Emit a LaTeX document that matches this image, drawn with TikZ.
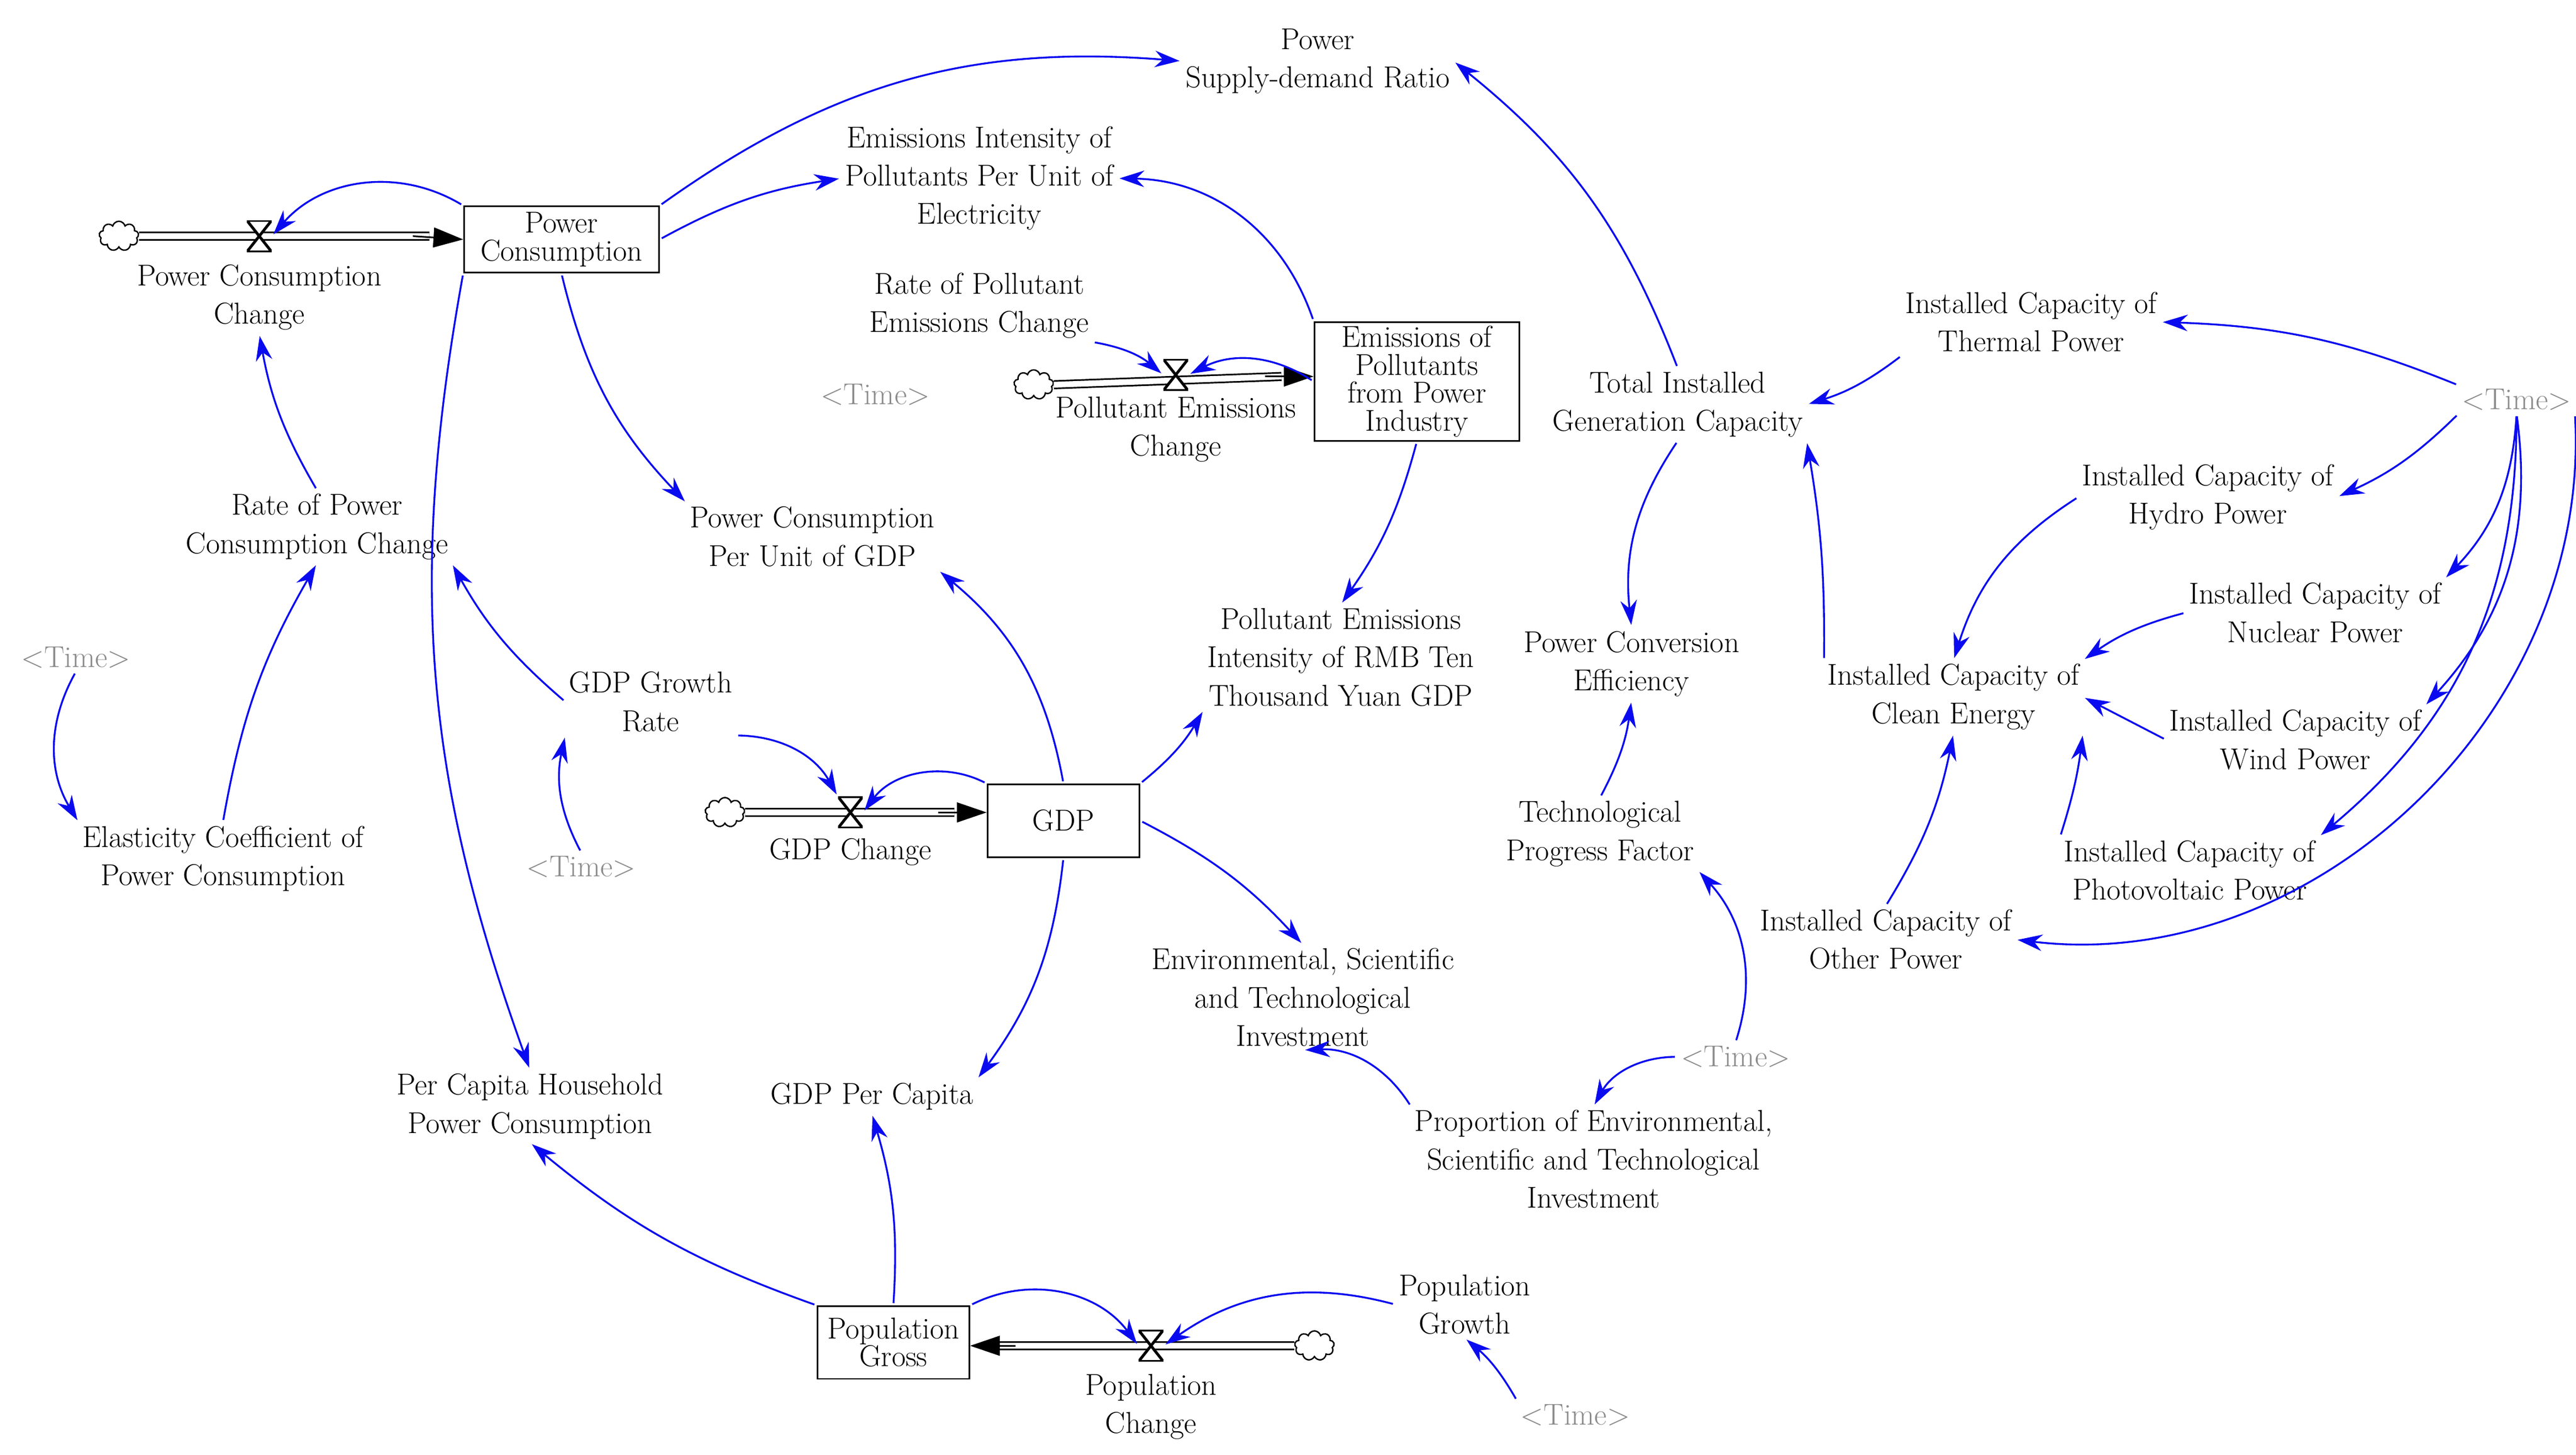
\documentclass[tikz,border=0pt]{standalone}
\usetikzlibrary{arrows.meta,shapes.symbols}
\newcommand\vsf{\fontsize{26}{33}\selectfont}
\newcommand\bxf{\fontsize{26}{24}\selectfont}
\definecolor{lk}{RGB}{10,10,240}
\begin{document}
\begin{tikzpicture}[x=0.05cm,y=-0.05cm,
 v/.style={align=center,font=\vsf,inner sep=3pt},
 tm/.style={font=\vsf,text=gray!90,inner sep=3pt},
 bx/.style={draw,line width=1.4pt,align=center,font=\bxf,inner sep=2pt},
 lnk/.style={draw=lk,line width=1.6pt,-{Stealth[length=0.75cm,width=0.5cm]},shorten >=2pt,shorten <=2pt},
 pipe/.style={double,double distance=5pt,line width=1.4pt},
 cl/.style={cloud,cloud puffs=9,draw,line width=1.2pt,fill=white,minimum width=1.2cm,minimum height=0.9cm,inner sep=0},
 valve/.style={minimum width=0.75cm,minimum height=0.95cm,inner sep=0,
   path picture={\draw[line width=2.4pt,fill=white] (path picture bounding box.north west)--(path picture bounding box.north east)--(path picture bounding box.south west)--(path picture bounding box.south east)--cycle;}},
 tip/.style={-{Triangle[length=0.9cm,width=0.6cm]},line width=1.4pt}
]
\useasboundingbox (0,0) rectangle (1560,881);
% stocks
\node[bx,minimum width=5.9cm,minimum height=2cm] (pc) at (340,145) {Power\\Consumption};
\node[bx,minimum width=6.2cm,minimum height=3.6cm] (ep) at (858,231) {Emissions of\\Pollutants\\from Power\\Industry};
\node[bx,minimum width=4.6cm,minimum height=2.2cm,font=\vsf] (gdp) at (644,497) {GDP};
\node[bx,minimum width=4.6cm,minimum height=2.2cm] (pg) at (541,813) {Population\\Gross};
% clouds and valves
\node[cl] (c1) at (72,143) {};
\node[cl] (c2) at (626,233) {};
\node[cl] (c3) at (439,492) {};
\node[cl] (c4) at (796,815) {};
\draw[pipe] (c1.east) -- (260,143); \draw[tip] (250,143) -- (pc.west);
\draw[pipe] (c2.east) -- (776,228); \draw[tip] (766,228) -- (ep.west |- 0,228);
\draw[pipe] (c3.east) -- (578,492); \draw[tip] (568,492) -- (gdp.west |- 0,492);
\draw[pipe] (c4.west) -- (605,815); \draw[tip] (615,815) -- (pg.east |- 0,815);
\node[valve] (v1) at (157,143) {};
\node[valve] (v2) at (712,227) {};
\node[valve] (v3) at (515,492) {};
\node[valve] (v4) at (697,815) {};
% variables
\node[v] (psd) at (798,37) {Power\\Supply-demand Ratio};
\node[v] (eipu) at (593,108) {Emissions Intensity of\\Pollutants Per Unit of\\Electricity};
\node[v] (pcc) at (157,180) {Power Consumption\\Change};
\node[v] (rpe) at (593,185) {Rate of Pollutant\\Emissions Change};
\node[tm] (t1) at (530,239) {<Time>};
\node[v] (pec) at (712,260) {Pollutant Emissions\\Change};
\node[v] (tig) at (1016,245) {Total Installed\\Generation Capacity};
\node[v] (th) at (1230,195) {Installed Capacity of\\Thermal Power};
\node[tm] (t2) at (1524,242) {<Time>};
\node[v] (hy) at (1337,301) {Installed Capacity of\\Hydro Power};
\node[v] (nu) at (1402,371) {Installed Capacity of\\Nuclear Power};
\node[v] (ce) at (1183,422) {Installed Capacity of\\Clean Energy};
\node[v] (wi) at (1390,448) {Installed Capacity of\\Wind Power};
\node[v] (pv) at (1326,527) {Installed Capacity of\\Photovoltaic Power};
\node[v] (ot) at (1142,569) {Installed Capacity of\\Other Power};
\node[v] (pce) at (988,402) {Power Conversion\\Efficiency};
\node[v] (tp) at (969,505) {Technological\\Progress Factor};
\node[tm] (t3) at (1051,640) {<Time>};
\node[v] (pr) at (965,702) {Proportion of Environmental,\\Scientific and Technological\\Investment};
\node[v] (env) at (789,604) {Environmental, Scientific\\and Technological\\Investment};
\node[v] (peg) at (812,398) {Pollutant Emissions\\Intensity of RMB Ten\\Thousand Yuan GDP};
\node[v] (pcg) at (492,325) {Power Consumption\\Per Unit of GDP};
\node[v] (rpc) at (192,319) {Rate of Power\\Consumption Change};
\node[tm] (t4) at (46,398) {<Time>};
\node[v] (el) at (135,520) {Elasticity Coefficient of\\Power Consumption};
\node[v] (ggr) at (394,425) {GDP Growth\\Rate};
\node[tm] (t5) at (352,525) {<Time>};
\node[v] (gc) at (515,516) {GDP Change};
\node[v] (gpc) at (528,664) {GDP Per Capita};
\node[v] (phc) at (321,670) {Per Capita Household\\Power Consumption};
\node[v] (popc) at (697,852) {Population\\Change};
\node[v] (popg) at (887,790) {Population\\Growth};
\node[tm] (t6) at (954,857) {<Time>};
% links
\draw[lnk] (pc.north east) to[bend left=20] (psd.west);
\draw[lnk] (pc.east) to[bend left=10] (eipu.west);
\draw[lnk] (pc.north west) to[bend right=40] (v1.east);
\draw[lnk] (pc.south) to[bend right=15] (pcg.north west);
\draw[lnk] (pc.south west) to[bend right=15] (phc.north);
\draw[lnk] (ep.north west) to[bend right=35] (eipu.east);
\draw[lnk] (ep.west) to[bend right=30] (v2.east);
\draw[lnk] (ep.south) to[bend left=10] (peg.north);
\draw[lnk] (rpe.south east) to[bend left=15] (v2.west);
\draw[lnk] (tig.north) to[bend right=15] (psd.east);
\draw[lnk] (tig.south) to[bend right=20] (pce.north);
\draw[lnk] (th.south west) to[bend left=10] (tig.east);
\draw[lnk] (t2.north west) to[bend right=10] (th.east);
\draw[lnk] (t2.south west) to[bend left=10] (hy.east);
\draw[lnk] (t2.south) to[bend left=20] (nu.north east);
\draw[lnk] (t2.south) to[bend left=25] (wi.north east);
\draw[lnk] (t2.south) to[bend left=25] (pv.north east);
\draw[lnk] (t2.south east) to[bend left=50] (ot.east);
\draw[lnk] (hy.west) to[bend right=20] (ce.north);
\draw[lnk] (nu.west) to[bend right=10] (ce.north east);
\draw[lnk] (wi.west) to (ce.east);
\draw[lnk] (pv.north west) to[bend right=5] (ce.south east);
\draw[lnk] (ot.north) to[bend right=10] (ce.south);
\draw[lnk] (ce.north west) to[bend right=5] (tig.south east);
\draw[lnk] (tp.north) to[bend right=10] (pce.south);
\draw[lnk] (t3.north) to[bend right=30] (tp.south east);
\draw[lnk] (t3.west) to[bend right=30] (pr.north);
\draw[lnk] (pr.north west) to[bend right=30] (env.south);
\draw[lnk] (gdp.east) to[bend left=10] (env.north);
\draw[lnk] (gdp.north east) to[bend right=10] (peg.south west);
\draw[lnk] (gdp.north) to[bend right=20] (pcg.south east);
\draw[lnk] (gdp.north west) to[bend right=40] (v3.east);
\draw[lnk] (gdp.south) to[bend left=15] (gpc.north east);
\draw[lnk] (ggr.south east) to[bend left=30] (v3.north west);
\draw[lnk] (ggr.west) to[bend left=10] (rpc.south east);
\draw[lnk] (t5.north) to[bend left=20] (ggr.south west);
\draw[lnk] (rpc.north) to[bend left=10] (pcc.south);
\draw[lnk] (el.north) to[bend left=10] (rpc.south);
\draw[lnk] (t4.south) to[bend right=30] (el.north west);
\draw[lnk] (pg.north west) to[bend left=10] (phc.south);
\draw[lnk] (pg.north) to[bend right=10] (gpc.south);
\draw[lnk] (pg.north east) to[bend left=40] (v4.west);
\draw[lnk] (popg.west) to[bend right=25] (v4.east);
\draw[lnk] (t6.north west) to[bend right=10] (popg.south);
\end{tikzpicture}
\end{document}
